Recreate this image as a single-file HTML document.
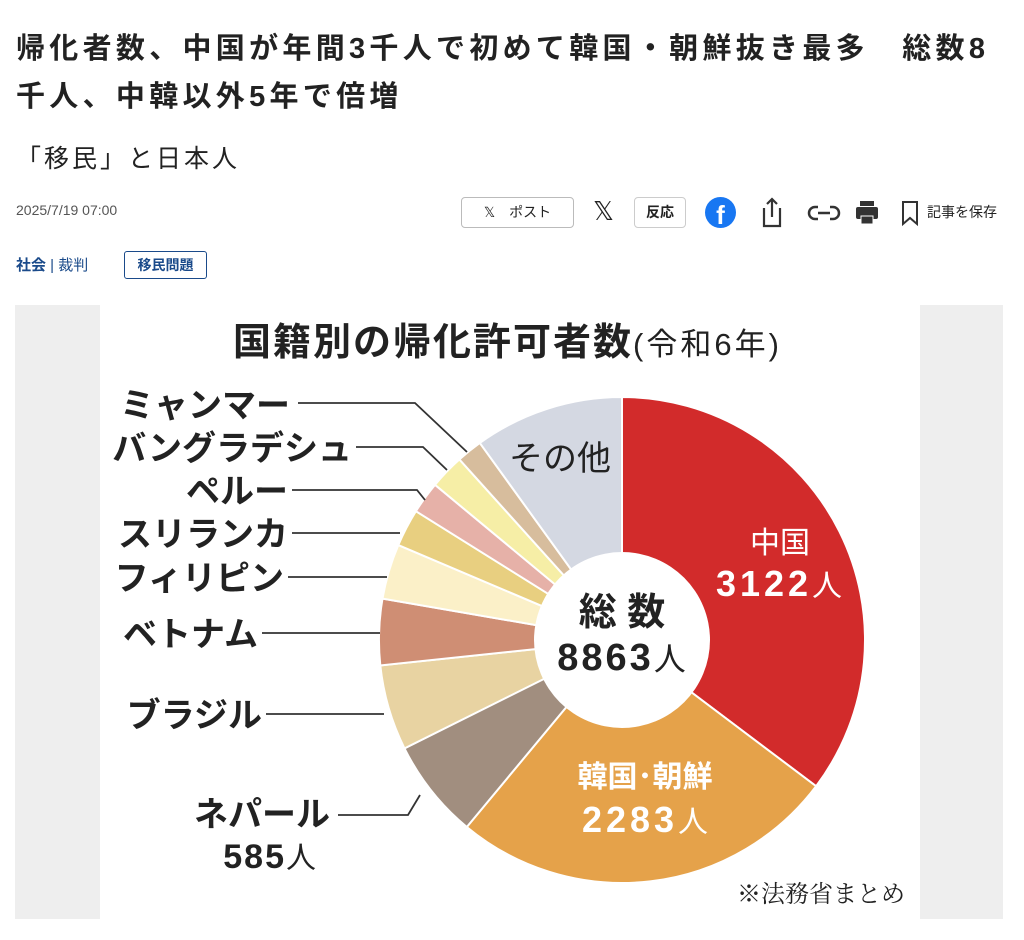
<!DOCTYPE html>
<html><head><meta charset="utf-8"><style>
body{margin:0;width:1024px;height:940px;background:#fff;font-family:"Liberation Sans","Noto Sans CJK JP",sans-serif;color:#222;position:relative;overflow:hidden}
.a{position:absolute;white-space:nowrap}
</style></head><body>
<div class="a" style="left:16px;top:25px;font-size:29px;letter-spacing:4.3px;font-weight:bold;line-height:48px;color:#222">帰化者数、中国が年間3千人で初めて韓国・朝鮮抜き最多　総数8<br>千人、中韓以外5年で倍増</div>
<div class="a" style="left:16px;top:139px;font-size:25px;letter-spacing:3px;color:#222">「移民」と日本人</div>
<div class="a" style="left:16px;top:202px;font-size:14px;color:#555">2025/7/19 07:00</div>
<div class="a" style="left:461px;top:197px;width:111px;height:29px;border:1px solid #bbb;border-radius:4px;font-size:14px;line-height:29px;text-align:center">𝕏　ポスト</div>
<div class="a" style="left:593px;top:196px;font-size:26px">𝕏</div>
<div class="a" style="left:634px;top:197px;width:50px;height:29px;border:1px solid #ccc;border-radius:4px;font-size:14px;line-height:29px;text-align:center;font-weight:bold">反応</div>
<div class="a" style="left:705px;top:197px;width:31px;height:31px;border-radius:50%;background:#1877f2;color:#fff;font-size:26px;font-weight:bold;text-align:center;line-height:36px">f</div>
<svg class="a" style="left:758px;top:196px" width="260" height="34">
<path d="M6 12v18h16V12M14 3v18M9 8l5-5 5 5" stroke="#333" stroke-width="2.2" fill="none"/>
<path d="M60 11h-3a6 6 0 0 0 0 12h3M72 11h3a6 6 0 0 1 0 12h-3M60 17h12" stroke="#333" stroke-width="2.5" fill="none"/>
<rect x="98" y="11" width="22" height="12" rx="2" fill="#333"/><rect x="102" y="5" width="14" height="5" fill="#333"/><rect x="103" y="20" width="12" height="8" fill="#333" stroke="#fff" stroke-width="1"/>
<path d="M145 6h14v22l-7-6-7 6z" stroke="#333" stroke-width="2" fill="none"/>
<text x="169" y="21" font-size="14" fill="#222">記事を保存</text></svg>
<div class="a" style="left:16px;top:254px;font-size:15px;color:#1a4a8a"><b>社会</b> | 裁判</div>
<div class="a" style="left:124px;top:251px;width:81px;height:26px;border:1px solid #1a4a8a;border-radius:3px;font-size:14px;line-height:26px;text-align:center;color:#1a4a8a;font-weight:bold">移民問題</div>
<div class="a" style="left:15px;top:305px;width:988px;height:614px;background:#eee"></div>
<div class="a" style="left:100px;top:305px;width:820px;height:614px;background:#fff"></div>
<svg class="a" style="left:0;top:0" width="1024" height="940">
<g stroke="#fff" stroke-width="2">
<path d="M622 640L622 397A243 243 0 0 1 816.1 786.2Z" fill="#d22b2b"/>
<path d="M622 640L816.1 786.2A243 243 0 0 1 466.8 827Z" fill="#e5a24a"/>
<path d="M622 640L466.8 827A243 243 0 0 1 404.5 748.4Z" fill="#a18e7f"/>
<path d="M622 640L404.5 748.4A243 243 0 0 1 380.3 665.4Z" fill="#e8d3a2"/>
<path d="M622 640L380.3 665.4A243 243 0 0 1 382.5 598.6Z" fill="#cf8e74"/>
<path d="M622 640L382.5 598.6A243 243 0 0 1 398.3 545.1Z" fill="#fbf0c8"/>
<path d="M622 640L398.3 545.1A243 243 0 0 1 415.9 511.2Z" fill="#e8cf80"/>
<path d="M622 640L415.9 511.2A243 243 0 0 1 435 484.8Z" fill="#e6b1a8"/>
<path d="M622 640L435 484.8A243 243 0 0 1 459.4 459.4Z" fill="#f6eea6"/>
<path d="M622 640L459.4 459.4A243 243 0 0 1 479.8 442.9Z" fill="#d7bd9d"/>
<path d="M622 640L479.8 442.9A243 243 0 0 1 622 397Z" fill="#d4d8e2"/>
</g>
<circle cx="622" cy="640" r="88" fill="#fff"/>
<g stroke="#333" stroke-width="1.8" fill="none">
<path d="M298 403H415L467 452"/><path d="M356 447H423L447 470"/><path d="M292 490H417L425 500"/>
<path d="M292 533H400"/><path d="M288 577H387"/><path d="M262 633H380"/><path d="M266 714H384"/><path d="M338 815H408L420 795"/>
</g>
<g font-family="Liberation Sans,Noto Sans CJK JP,sans-serif" font-weight="bold" fill="#222">
<text x="233" y="355" font-size="38" letter-spacing="2">国籍別の帰化許可者数<tspan font-size="31" font-weight="normal" letter-spacing="3">(令和6年)</tspan></text>
<g font-size="34" text-anchor="end">
<text x="290" y="417">ミャンマー</text><text x="352" y="460">バングラデシュ</text><text x="288" y="503">ペルー</text>
<text x="288" y="546">スリランカ</text><text x="284" y="590">フィリピン</text><text x="258" y="646">ベトナム</text>
<text x="262" y="727">ブラジル</text><text x="330" y="826">ネパール</text><text x="318" y="868" letter-spacing="2">585<tspan font-size="30" font-weight="normal">人</tspan></text>
</g>
<text x="560" y="470" font-size="34" text-anchor="middle" font-weight="normal">その他</text>
<g fill="#fff" text-anchor="middle"><text x="780" y="553" font-size="30" font-weight="normal">中国</text>
<text x="781" y="596" font-size="36" letter-spacing="4">3122<tspan font-size="30" font-weight="normal">人</tspan></text>
<text x="645" y="787" font-size="30">韓国･朝鮮</text>
<text x="647" y="832" font-size="36" letter-spacing="4">2283<tspan font-size="30" font-weight="normal">人</tspan></text></g>
<text x="622" y="625" font-size="38" text-anchor="middle">総 数</text>
<text x="623" y="670" font-size="38" text-anchor="middle" letter-spacing="3">8863<tspan font-size="32" font-weight="normal">人</tspan></text>
<text x="905" y="902" font-size="24" text-anchor="end" font-weight="normal" font-family="Liberation Serif,Noto Serif CJK SC,serif">※法務省まとめ</text>
</g></svg>
</body></html>
